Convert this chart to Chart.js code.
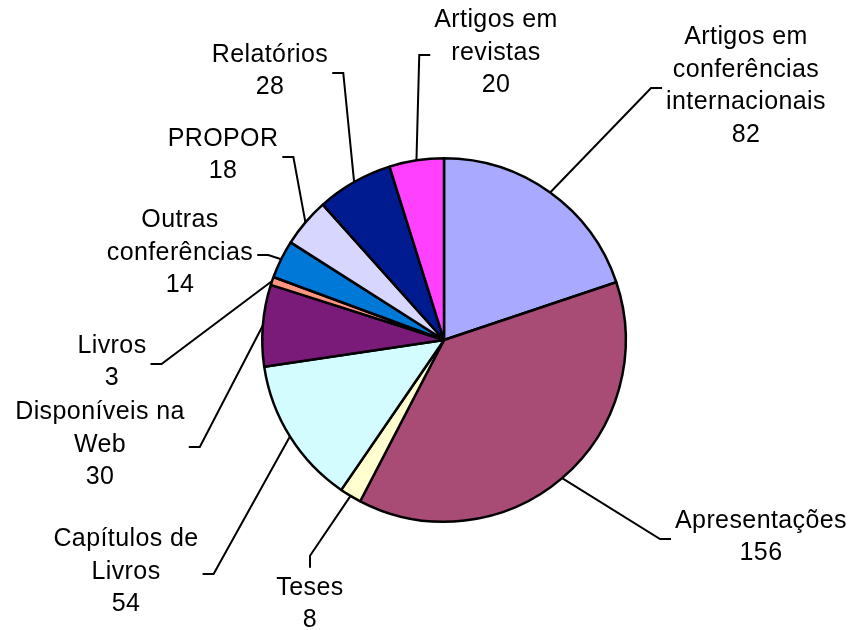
<!DOCTYPE html>
<html>
<head>
<meta charset="utf-8">
<script src="https://cdn.jsdelivr.net/npm/chart.js@4"></script>
<style>
  html, body { margin: 0; padding: 0; background: #fff; }
  #wrap { width: 850px; height: 630px; }
</style>
</head>
<body>
<div id="wrap"><canvas id="myChart" width="850" height="630"></canvas></div>
<script>
// data
const categories = [
    'Artigos em\nconferências\ninternacionais',
    'Apresentações',
    'Teses',
    'Capítulos de\nLivros',
    'Disponíveis na\nWeb',
    'Livros',
    'Outras\nconferências',
    'PROPOR',
    'Relatórios',
    'Artigos em\nrevistas'
];
const values = [82, 156, 8, 54, 30, 3, 14, 18, 28, 20];
const colors = ['#A9A9FF', '#A84B75', '#FFFFD0', '#D2FCFF', '#7A1B7A',
    '#FF9680', '#0078D7', '#D6D6FF', '#001A90', '#FF40FF'];

// where each label block sits (center) and which side the leader enters from
const labelPos = [
    {x: 746, y: 86, side: 'left'},
    {x: 761, y: 537, side: 'left'},
    {x: 310, y: 604, side: 'top'},
    {x: 126, y: 572, side: 'right'},
    {x: 100, y: 445, side: 'right'},
    {x: 112, y: 362, side: 'right'},
    {x: 180, y: 253, side: 'right'},
    {x: 223, y: 155, side: 'right'},
    {x: 270, y: 71, side: 'right'},
    {x: 496, y: 53, side: 'left'}
];

const FONT = '25px "Liberation Sans", Arial, sans-serif';
const LINE_H = 32.5;

const leaderLabels = {
    id: 'leaderLabels',
    afterDatasetsDraw(chart) {
        const ctx = chart.ctx;
        const arcs = chart.getDatasetMeta(0).data;
        ctx.save();
        ctx.font = FONT;
        ctx.letterSpacing = '0.4px';
        ctx.fillStyle = '#000';
        ctx.strokeStyle = '#000';
        ctx.lineWidth = 2;
        ctx.textAlign = 'center';
        ctx.textBaseline = 'middle';
        arcs.forEach((arc, i) => {
            const lines = categories[i].split('\n').concat(String(values[i]));
            const pos = labelPos[i];
            const w = Math.max(...lines.map(l => ctx.measureText(l).width));
            const top = pos.y - (lines.length - 1) * LINE_H / 2;
            const mid = (arc.startAngle + arc.endAngle) / 2;
            const ex = arc.x + Math.cos(mid) * arc.outerRadius;
            const ey = arc.y + Math.sin(mid) * arc.outerRadius;
            let elbow, tick;
            if (pos.side === 'left') {
                elbow = [pos.x - w / 2 - 15, pos.y + 2];
                tick = [pos.x - w / 2 - 4, pos.y + 2];
            } else if (pos.side === 'right') {
                elbow = [pos.x + w / 2 + 15, pos.y + 2];
                tick = [pos.x + w / 2 + 4, pos.y + 2];
            } else {
                elbow = [pos.x, top - 32];
                tick = [pos.x, top - 20];
            }
            ctx.beginPath();
            ctx.moveTo(ex, ey);
            ctx.lineTo(elbow[0], elbow[1]);
            ctx.lineTo(tick[0], tick[1]);
            ctx.stroke();
            lines.forEach((l, k) => ctx.fillText(l, pos.x, top + k * LINE_H));
        });
        ctx.restore();
    }
};

const data = {
    labels: categories,
    datasets: [{
        data: values,
        backgroundColor: colors,
        borderColor: '#000',
        borderWidth: 2.5
    }]
};

const config = {
    type: 'pie',
    data: data,
    options: {
        responsive: false,
        animation: false,
        layout: {
            padding: {top: 157, bottom: 107, left: 261, right: 223}
        },
        plugins: {
            legend: {display: false},
            tooltip: {enabled: false}
        }
    },
    plugins: [leaderLabels]
};

const myChart = new Chart(document.getElementById('myChart'), config);
</script>
</body>
</html>
